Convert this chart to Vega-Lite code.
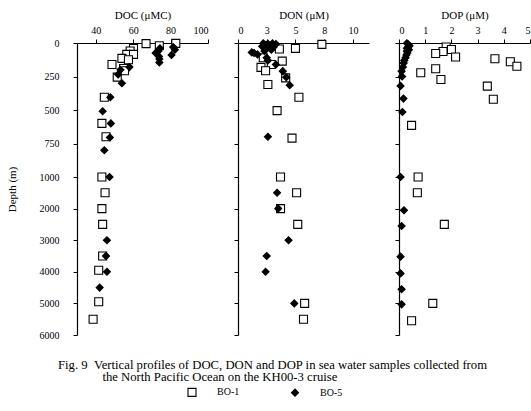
{
  "$schema": "https://vega.github.io/schema/vega-lite/v6.json",
  "padding": {"left": 6, "top": 9, "right": 0, "bottom": 0},
  "spacing": 30,
  "bounds": "flush",
  "title": {
    "text": ["Fig. 9\u00a0\u00a0Vertical profiles of DOC, DON and DOP in sea water samples collected from", "\u200b\u00a0\u00a0\u00a0\u00a0\u00a0\u00a0\u00a0\u00a0\u00a0\u00a0\u00a0\u00a0\u00a0\u00a0the North Pacific Ocean on the KH00-3 cruise"],
    "orient": "bottom", "anchor": "start", "dx": 52, "offset": -40,
    "font": "Liberation Serif", "fontSize": 12.7, "fontWeight": "normal", "color": "black", "lineHeight": 12
  },
  "datasets": {
    "doc": [
      {"station": "BO-1", "depth": 5, "value": 66.9},
      {"station": "BO-1", "depth": 3, "value": 82.8},
      {"station": "BO-1", "depth": 20, "value": 74.0},
      {"station": "BO-1", "depth": 40, "value": 60.2},
      {"station": "BO-1", "depth": 60, "value": 58.4},
      {"station": "BO-1", "depth": 85, "value": 56.6},
      {"station": "BO-1", "depth": 85, "value": 60.2},
      {"station": "BO-1", "depth": 115, "value": 54.0},
      {"station": "BO-1", "depth": 125, "value": 57.5},
      {"station": "BO-1", "depth": 160, "value": 48.7},
      {"station": "BO-1", "depth": 190, "value": 54.9},
      {"station": "BO-1", "depth": 207, "value": 55.4},
      {"station": "BO-1", "depth": 255, "value": 51.5},
      {"station": "BO-1", "depth": 405, "value": 44.6},
      {"station": "BO-1", "depth": 600, "value": 43.3},
      {"station": "BO-1", "depth": 700, "value": 45.5},
      {"station": "BO-1", "depth": 1000, "value": 43.3},
      {"station": "BO-1", "depth": 1500, "value": 45.0},
      {"station": "BO-1", "depth": 2000, "value": 43.3},
      {"station": "BO-1", "depth": 2500, "value": 43.7},
      {"station": "BO-1", "depth": 3500, "value": 43.7},
      {"station": "BO-1", "depth": 3950, "value": 41.6},
      {"station": "BO-1", "depth": 4950, "value": 41.6},
      {"station": "BO-1", "depth": 5500, "value": 38.6},
      {"station": "BO-5", "depth": 40, "value": 74.3},
      {"station": "BO-5", "depth": 60, "value": 73.5},
      {"station": "BO-5", "depth": 75, "value": 72.0},
      {"station": "BO-5", "depth": 100, "value": 73.8},
      {"station": "BO-5", "depth": 120, "value": 74.0},
      {"station": "BO-5", "depth": 145, "value": 74.0},
      {"station": "BO-5", "depth": 30, "value": 81.4},
      {"station": "BO-5", "depth": 50, "value": 82.3},
      {"station": "BO-5", "depth": 90, "value": 80.5},
      {"station": "BO-5", "depth": 180, "value": 58.0},
      {"station": "BO-5", "depth": 200, "value": 53.2},
      {"station": "BO-5", "depth": 235, "value": 52.0},
      {"station": "BO-5", "depth": 300, "value": 54.0},
      {"station": "BO-5", "depth": 405, "value": 47.8},
      {"station": "BO-5", "depth": 510, "value": 43.7},
      {"station": "BO-5", "depth": 600, "value": 48.1},
      {"station": "BO-5", "depth": 705, "value": 47.6},
      {"station": "BO-5", "depth": 800, "value": 44.6},
      {"station": "BO-5", "depth": 1000, "value": 47.4},
      {"station": "BO-5", "depth": 3000, "value": 46.0},
      {"station": "BO-5", "depth": 3500, "value": 45.5},
      {"station": "BO-5", "depth": 4000, "value": 46.0},
      {"station": "BO-5", "depth": 4500, "value": 42.1}
    ],
    "don": [
      {"station": "BO-1", "depth": 10, "value": 7.3},
      {"station": "BO-1", "depth": 40, "value": 5.0},
      {"station": "BO-1", "depth": 45, "value": 3.6},
      {"station": "BO-1", "depth": 110, "value": 2.2},
      {"station": "BO-1", "depth": 135, "value": 3.85},
      {"station": "BO-1", "depth": 160, "value": 2.9},
      {"station": "BO-1", "depth": 182, "value": 2.0},
      {"station": "BO-1", "depth": 207, "value": 2.4},
      {"station": "BO-1", "depth": 260, "value": 4.15},
      {"station": "BO-1", "depth": 310, "value": 2.6},
      {"station": "BO-1", "depth": 405, "value": 5.3},
      {"station": "BO-1", "depth": 505, "value": 3.4},
      {"station": "BO-1", "depth": 710, "value": 4.7},
      {"station": "BO-1", "depth": 1000, "value": 3.7},
      {"station": "BO-1", "depth": 1500, "value": 5.1},
      {"station": "BO-1", "depth": 2000, "value": 3.7},
      {"station": "BO-1", "depth": 2500, "value": 5.2},
      {"station": "BO-1", "depth": 5000, "value": 5.8},
      {"station": "BO-1", "depth": 5500, "value": 5.7},
      {"station": "BO-5", "depth": 2, "value": 2.2},
      {"station": "BO-5", "depth": 5, "value": 2.6},
      {"station": "BO-5", "depth": 3, "value": 3.0},
      {"station": "BO-5", "depth": 8, "value": 3.3},
      {"station": "BO-5", "depth": 15, "value": 2.4},
      {"station": "BO-5", "depth": 20, "value": 2.8},
      {"station": "BO-5", "depth": 25, "value": 2.1},
      {"station": "BO-5", "depth": 30, "value": 3.1},
      {"station": "BO-5", "depth": 40, "value": 2.5},
      {"station": "BO-5", "depth": 50, "value": 2.9},
      {"station": "BO-5", "depth": 60, "value": 2.3},
      {"station": "BO-5", "depth": 70, "value": 1.2},
      {"station": "BO-5", "depth": 75, "value": 1.4},
      {"station": "BO-5", "depth": 85, "value": 1.7},
      {"station": "BO-5", "depth": 110, "value": 2.5},
      {"station": "BO-5", "depth": 130, "value": 2.6},
      {"station": "BO-5", "depth": 160, "value": 3.3},
      {"station": "BO-5", "depth": 210, "value": 3.9},
      {"station": "BO-5", "depth": 255, "value": 4.2},
      {"station": "BO-5", "depth": 315, "value": 4.5},
      {"station": "BO-5", "depth": 700, "value": 2.6},
      {"station": "BO-5", "depth": 1500, "value": 3.4},
      {"station": "BO-5", "depth": 2000, "value": 3.5},
      {"station": "BO-5", "depth": 3000, "value": 4.4},
      {"station": "BO-5", "depth": 3500, "value": 2.5},
      {"station": "BO-5", "depth": 4000, "value": 2.4},
      {"station": "BO-5", "depth": 5000, "value": 4.9}
    ],
    "dop": [
      {"station": "BO-1", "depth": 30, "value": 1.8},
      {"station": "BO-1", "depth": 48, "value": 2.0},
      {"station": "BO-1", "depth": 63, "value": 1.68},
      {"station": "BO-1", "depth": 78, "value": 1.4},
      {"station": "BO-1", "depth": 105, "value": 2.16},
      {"station": "BO-1", "depth": 117, "value": 3.66},
      {"station": "BO-1", "depth": 140, "value": 4.25},
      {"station": "BO-1", "depth": 173, "value": 4.5},
      {"station": "BO-1", "depth": 222, "value": 0.83},
      {"station": "BO-1", "depth": 192, "value": 1.4},
      {"station": "BO-1", "depth": 272, "value": 1.6},
      {"station": "BO-1", "depth": 322, "value": 3.37},
      {"station": "BO-1", "depth": 420, "value": 3.6},
      {"station": "BO-1", "depth": 615, "value": 0.48},
      {"station": "BO-1", "depth": 1000, "value": 0.73},
      {"station": "BO-1", "depth": 1500, "value": 0.7},
      {"station": "BO-1", "depth": 2500, "value": 1.73},
      {"station": "BO-1", "depth": 5000, "value": 1.29},
      {"station": "BO-1", "depth": 5550, "value": 0.48},
      {"station": "BO-5", "depth": 2, "value": 0.3},
      {"station": "BO-5", "depth": 10, "value": 0.35},
      {"station": "BO-5", "depth": 20, "value": 0.4},
      {"station": "BO-5", "depth": 30, "value": 0.35},
      {"station": "BO-5", "depth": 40, "value": 0.3},
      {"station": "BO-5", "depth": 50, "value": 0.38},
      {"station": "BO-5", "depth": 60, "value": 0.3},
      {"station": "BO-5", "depth": 75, "value": 0.32},
      {"station": "BO-5", "depth": 90, "value": 0.28},
      {"station": "BO-5", "depth": 110, "value": 0.25},
      {"station": "BO-5", "depth": 130, "value": 0.2},
      {"station": "BO-5", "depth": 150, "value": 0.18},
      {"station": "BO-5", "depth": 180, "value": 0.15},
      {"station": "BO-5", "depth": 210, "value": 0.1},
      {"station": "BO-5", "depth": 250, "value": 0.12},
      {"station": "BO-5", "depth": 320, "value": 0.06},
      {"station": "BO-5", "depth": 415, "value": 0.17},
      {"station": "BO-5", "depth": 515, "value": 0.13},
      {"station": "BO-5", "depth": 1000, "value": 0.06},
      {"station": "BO-5", "depth": 2050, "value": 0.19},
      {"station": "BO-5", "depth": 2550, "value": 0.1},
      {"station": "BO-5", "depth": 3520, "value": 0.06},
      {"station": "BO-5", "depth": 4050, "value": 0.06},
      {"station": "BO-5", "depth": 4550, "value": 0.1},
      {"station": "BO-5", "depth": 5030, "value": 0.1}
    ]
  },
  "hconcat": [
    {
      "data": {"name": "doc"},
      "width": 131, "height": 292,
      "mark": {"type": "point", "filled": false, "opacity": 1, "strokeWidth": 1.1},
      "encoding": {
        "x": {"field": "value", "type": "quantitative", "scale": {"domain": [30, 100], "nice": false, "zero": false},
              "axis": {"orient": "top", "title": "DOC (μMC)", "values": [40, 60, 80, 100]}},
        "y": {"field": "depth", "type": "quantitative", "scale": {"domain": [0, 1000, 6000], "range": [0, 134, 292], "nice": false, "zero": false},
              "axis": {"title": "Depth (m)", "format": "d", "values": [0, 250, 500, 750, 1000, 2000, 3000, 4000, 5000, 6000], "labelPadding": 14, "titlePadding": 22}},
        "shape": {"field": "station", "type": "nominal", "scale": {"domain": ["BO-1", "BO-5"], "range": ["square", "diamond"]},
                  "legend": {"orient": "none", "direction": "horizontal", "legendX": 110, "legendY": 344, "title": null}},
        "fill": {"field": "station", "type": "nominal", "scale": {"domain": ["BO-1", "BO-5"], "range": ["white", "black"]},
                  "legend": {"orient": "none", "direction": "horizontal", "legendX": 110, "legendY": 344, "title": null}},
        "stroke": {"field": "station", "type": "nominal", "scale": {"domain": ["BO-1", "BO-5"], "range": ["black", "black"]},
                  "legend": {"orient": "none", "direction": "horizontal", "legendX": 110, "legendY": 344, "title": null}},
        "size": {"field": "station", "type": "nominal", "scale": {"domain": ["BO-1", "BO-5"], "range": [64, 49]},
                  "legend": {"orient": "none", "direction": "horizontal", "legendX": 110, "legendY": 344, "title": null}}
      }
    },
    {
      "data": {"name": "don"},
      "width": 131, "height": 292,
      "mark": {"type": "point", "filled": false, "opacity": 1, "strokeWidth": 1.1},
      "encoding": {
        "x": {"field": "value", "type": "quantitative", "scale": {"domain": [0, 11.4], "nice": false},
              "axis": {"orient": "top", "title": "DON (μM)", "values": [0, 2.5, 5, 7.5, 10]}},
        "y": {"field": "depth", "type": "quantitative", "scale": {"domain": [0, 1000, 6000], "range": [0, 134, 292], "nice": false, "zero": false},
              "axis": {"title": null, "labels": false, "values": [0, 250, 500, 750, 1000, 2000, 3000, 4000, 5000, 6000]}},
        "shape": {"field": "station", "type": "nominal", "scale": {"domain": ["BO-1", "BO-5"], "range": ["square", "diamond"]}},
        "fill": {"field": "station", "type": "nominal", "scale": {"domain": ["BO-1", "BO-5"], "range": ["white", "black"]}},
        "stroke": {"field": "station", "type": "nominal", "scale": {"domain": ["BO-1", "BO-5"], "range": ["black", "black"]}},
        "size": {"field": "station", "type": "nominal", "scale": {"domain": ["BO-1", "BO-5"], "range": [64, 49]}}
      }
    },
    {
      "data": {"name": "dop"},
      "width": 131, "height": 292,
      "mark": {"type": "point", "filled": false, "opacity": 1, "strokeWidth": 1.1},
      "encoding": {
        "x": {"field": "value", "type": "quantitative", "scale": {"domain": [0, 5], "nice": false},
              "axis": {"orient": "top", "title": "DOP (μM)", "values": [0, 1, 2, 3, 4, 5]}},
        "y": {"field": "depth", "type": "quantitative", "scale": {"domain": [0, 1000, 6000], "range": [0, 134, 292], "nice": false, "zero": false},
              "axis": {"title": null, "labels": false, "values": [0, 250, 500, 750, 1000, 2000, 3000, 4000, 5000, 6000]}},
        "shape": {"field": "station", "type": "nominal", "scale": {"domain": ["BO-1", "BO-5"], "range": ["square", "diamond"]}},
        "fill": {"field": "station", "type": "nominal", "scale": {"domain": ["BO-1", "BO-5"], "range": ["white", "black"]}},
        "stroke": {"field": "station", "type": "nominal", "scale": {"domain": ["BO-1", "BO-5"], "range": ["black", "black"]}},
        "size": {"field": "station", "type": "nominal", "scale": {"domain": ["BO-1", "BO-5"], "range": [64, 49]}}
      }
    }
  ],
  "resolve": {"scale": {"x": "independent", "y": "independent"}},
  "config": {
    "font": "Liberation Serif",
    "view": {"stroke": null},
    "axis": {"grid": false, "domainColor": "black", "tickColor": "black", "labelColor": "black", "titleColor": "black",
             "labelFont": "Liberation Serif", "titleFont": "Liberation Serif", "labelFontSize": 10, "titleFontSize": 11,
             "titleFontWeight": "normal", "tickSize": 4, "domainWidth": 1.2},
    "axisX": {"labelPadding": 4, "titlePadding": 5},
    "legend": {"labelOffset": 20, "columnPadding": 49, "labelFontSize": 10, "labelFont": "Liberation Serif",
               "labelColor": "black", "symbolStrokeWidth": 1.1}
  }
}
